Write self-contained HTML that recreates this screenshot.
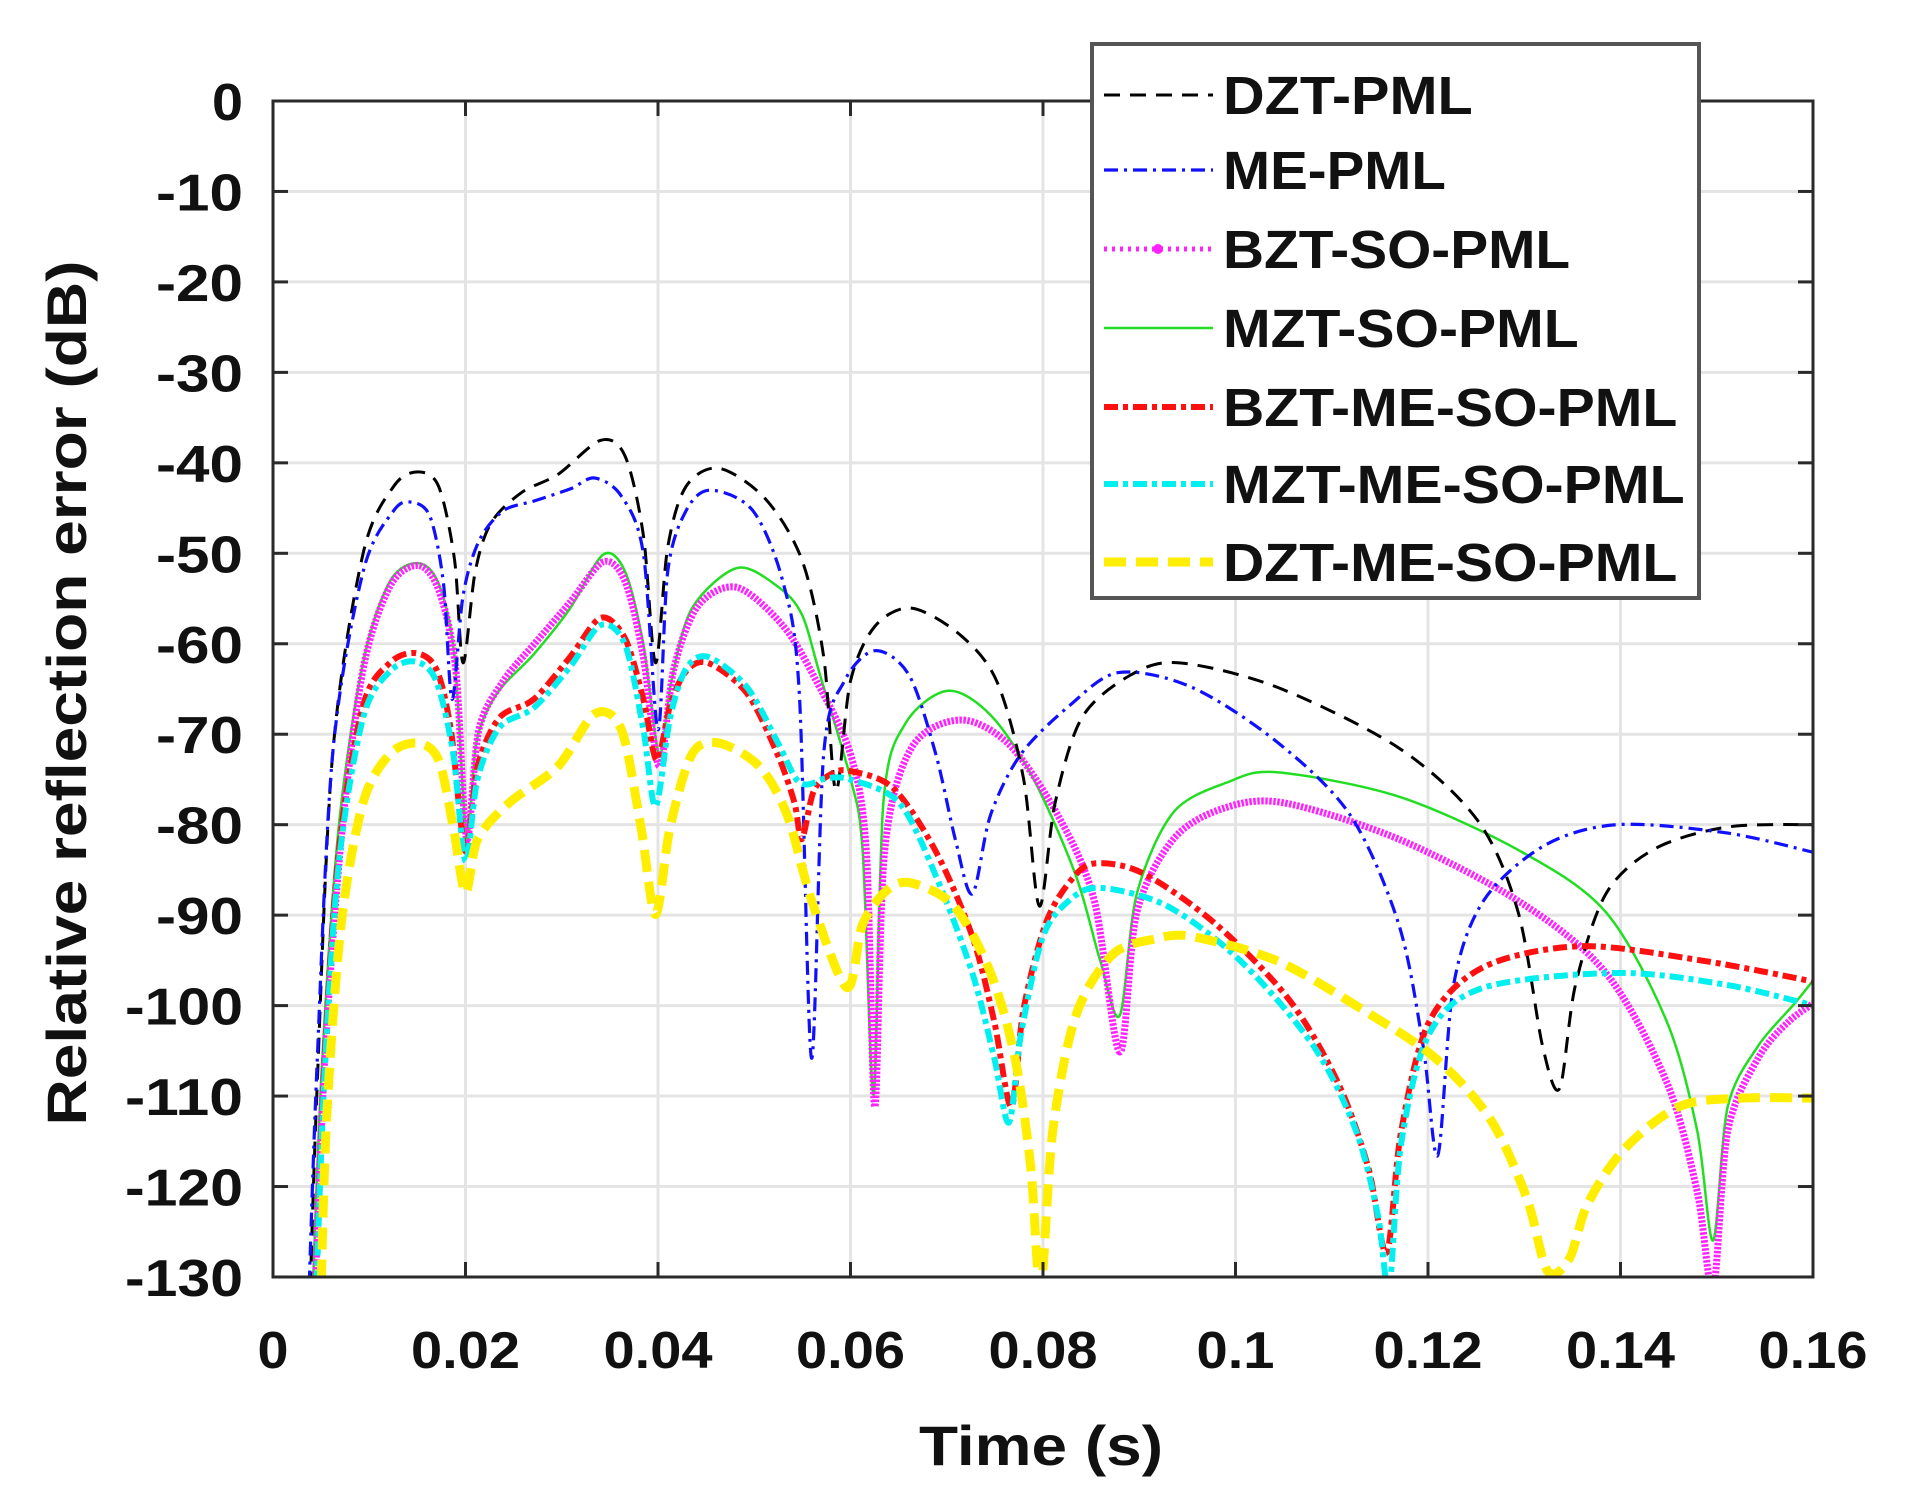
<!DOCTYPE html>
<html><head><meta charset="utf-8"><style>
html,body{margin:0;padding:0;background:#fff;}
svg{display:block;}
text{font-family:"Liberation Sans",Arial,sans-serif;font-weight:bold;fill:#111;}
</style></head><body>
<svg id="s" width="1905" height="1505" viewBox="0 0 1905 1505" xmlns="http://www.w3.org/2000/svg">
<defs><clipPath id="cp"><rect x="273" y="101" width="1540" height="1176"/></clipPath></defs>
<g id="grid" stroke="#e4e4e4" stroke-width="3"></g>
<g id="curves" clip-path="url(#cp)"></g>
<rect x="273" y="101" width="1540" height="1176" fill="none" stroke="#2a2a2a" stroke-width="3"/>
<g id="ticks" stroke="#2a2a2a" stroke-width="3"></g>
<g id="labels"></g>
<text x="1041" y="1465" font-size="56" text-anchor="middle" textLength="244" lengthAdjust="spacingAndGlyphs">Time (s)</text>
<text transform="translate(86,693) rotate(-90)" font-size="56" text-anchor="middle" textLength="865" lengthAdjust="spacingAndGlyphs">Relative reflection error (dB)</text>
<g id="legend">
<rect x="1092" y="44" width="607" height="554" fill="#fff" stroke="#555" stroke-width="4"/>
</g>
</svg>
<script>
const NS="http://www.w3.org/2000/svg";
function el(p,tag,a,txt){const e=document.createElementNS(NS,tag);for(const k in a)e.setAttribute(k,a[k]);if(txt)e.textContent=txt;document.getElementById(p).appendChild(e);return e;}
const X=t=>273+9625*t, Y=d=>101-d*9.046;
for(let i=1;i<8;i++){const x=X(i*0.02);el('grid','line',{x1:x,y1:101,x2:x,y2:1277});}
for(let i=1;i<13;i++){const y=Y(-i*10);el('grid','line',{x1:273,y1:y,x2:1813,y2:y});}
const xl=['0','0.02','0.04','0.06','0.08','0.1','0.12','0.14','0.16'];
xl.forEach((s,i)=>{const x=X(i*0.02);el('ticks','line',{x1:x,y1:1277,x2:x,y2:1262});el('ticks','line',{x1:x,y1:101,x2:x,y2:116});
 el('labels','text',{x:x,y:1368,'font-size':52,'text-anchor':'middle',textLength:s.length*31+(s.includes('.')?-15:0),lengthAdjust:'spacingAndGlyphs'},s);});
for(let i=0;i<=13;i++){const y=Y(-i*10);el('ticks','line',{x1:273,y1:y,x2:288,y2:y});el('ticks','line',{x1:1813,y1:y,x2:1798,y2:y});
 const s=i?('-'+i*10):'0';el('labels','text',{x:243,y:y+19,'font-size':52,'text-anchor':'end',textLength:s.length*31-(i?6:0),lengthAdjust:'spacingAndGlyphs'},s);}
const P=(x,y)=>[1.2184*x-2.4,1.2161*y+0.06];
function path(pts){pts=pts.map(p=>P(p[0],p[1]));let d='M'+pts[0][0]+','+pts[0][1];
 for(let i=0;i<pts.length-1;i++){const p0=pts[i-1]||pts[i],p1=pts[i],p2=pts[i+1],p3=pts[i+2]||p2;const k=1/6*0.9;
 d+=` C${p1[0]+(p2[0]-p0[0])*k},${p1[1]+(p2[1]-p0[1])*k} ${p2[0]-(p3[0]-p1[0])*k},${p2[1]-(p3[1]-p1[1])*k} ${p2[0]},${p2[1]}`;}return d;}
const S={
black:[[256,1080],[262,900],[275,620],[300,455],[325,400],[345,388],[362,400],[375,460],[382,545],[392,470],[405,430],[430,405],[460,390],[495,362],[515,375],[530,440],[540,545],[550,450],[565,400],[592,385],[630,410],[660,460],[678,540],[688,650],[700,560],[720,515],[750,500],[790,522],[820,560],[842,640],[855,745],[868,660],[890,590],[930,555],[970,545],[1050,565],[1150,615],[1215,675],[1248,750],[1268,860],[1282,895],[1295,810],[1320,735],[1360,698],[1420,680],[1495,678]],
blue:[[255,1080],[262,880],[275,620],[300,470],[325,420],[340,413],[355,425],[366,480],[373,575],[382,490],[395,445],[415,420],[440,412],[470,402],[490,393],[512,408],[530,455],[542,600],[550,470],[565,420],[585,403],[620,420],[645,480],[658,570],[668,870],[678,620],[695,560],[720,535],[748,555],[770,620],[786,690],[800,735],[815,670],[840,620],[880,580],[920,553],[980,565],[1050,610],[1110,670],[1150,760],[1170,860],[1182,950],[1195,810],[1220,740],[1270,695],[1330,678],[1420,685],[1495,702]],
green:[[258,1080],[266,880],[280,680],[300,545],[322,478],[345,463],[362,480],[375,540],[385,690],[393,610],[410,570],[440,538],[470,500],[497,456],[515,470],[530,530],[543,620],[553,560],[570,500],[607,467],[640,482],[660,505],[675,555],[700,640],[710,700],[719,900],[727,660],[745,595],[780,568],[815,588],[850,640],[885,720],[905,790],[921,835],[935,735],[965,668],[1010,643],[1050,635],[1150,655],[1250,700],[1320,750],[1370,840],[1395,930],[1408,1020],[1420,910],[1445,860],[1475,825],[1495,800]],
magenta:[[260,1080],[268,880],[282,690],[300,550],[322,482],[345,465],[362,485],[376,550],[385,690],[395,600],[415,560],[440,530],[470,495],[497,462],[515,478],[530,540],[543,630],[555,550],[575,498],[607,483],[645,515],[672,560],[700,620],[713,700],[720,910],[728,700],[750,615],[790,592],[830,612],[870,670],[900,740],[921,865],[935,750],[965,690],[1005,665],[1055,660],[1150,690],[1250,742],[1320,800],[1370,890],[1395,980],[1408,1060],[1420,930],[1445,870],[1470,840],[1495,822]],
red:[[261,1080],[268,880],[280,700],[300,580],[322,545],[343,537],[360,550],[372,600],[384,700],[394,630],[412,590],[440,575],[470,540],[495,508],[515,525],[530,575],[541,625],[552,580],[565,552],[583,545],[615,570],[640,620],[654,660],[660,690],[670,650],[685,636],[700,634],[735,648],[770,700],[800,770],[818,840],[832,910],[842,830],[860,760],[880,725],[900,710],[940,718],[1000,760],[1060,822],[1100,890],[1125,960],[1140,1030],[1152,930],[1175,840],[1220,795],[1300,778],[1400,790],[1495,808]],
cyan:[[261,1080],[268,890],[280,710],[300,590],[322,552],[343,544],[360,560],[374,620],[384,708],[394,640],[412,598],[440,582],[470,548],[495,514],[515,530],[530,600],[540,663],[552,590],[565,550],[583,540],[615,565],[640,610],[655,640],[665,645],[680,640],[700,641],[740,660],[770,720],[800,800],[818,870],[830,923],[840,850],[858,770],[880,740],[905,730],[960,745],[1020,790],[1080,860],[1115,930],[1133,1000],[1142,1060],[1152,940],[1175,850],[1220,812],[1330,800],[1420,810],[1495,828]],
yellow:[[265,1080],[270,920],[282,760],[300,660],[322,620],[345,611],[362,625],[374,680],[384,734],[394,690],[420,660],[460,630],[490,587],[512,600],[528,680],[540,752],[552,680],[570,620],[592,611],[625,630],[648,670],[668,740],[697,812],[710,760],[730,732],[750,726],[785,745],[815,800],[835,870],[848,960],[856,1060],[866,930],[885,835],[915,785],[950,772],[980,770],[1050,790],[1120,830],[1180,870],[1225,920],[1255,985],[1272,1045],[1290,1035],[1305,990],[1335,945],[1380,910],[1430,903],[1495,903]]
};
const st={
black:{stroke:'#000','stroke-width':3,'stroke-dasharray':'16 10'},
blue:{stroke:'#1010ff','stroke-width':3.2,'stroke-dasharray':'14 6 3 6'},
green:{stroke:'#22dd22','stroke-width':2.5},
magenta:{stroke:'#ff22ff','stroke-width':7,'stroke-dasharray':'2.5 1.5'},
red:{stroke:'#ff1010','stroke-width':6,'stroke-dasharray':'14 5 5 5'},
cyan:{stroke:'#00f0f0','stroke-width':6,'stroke-dasharray':'14 5 5 5'},
yellow:{stroke:'#ffee00','stroke-width':9,'stroke-dasharray':'22 10'}
};
['green','magenta','black','blue','red','cyan','yellow'].forEach(k=>{
 el('curves','path',Object.assign({d:path(S[k]),fill:'none','stroke-linejoin':'round'},st[k]));});
const L=[['DZT-PML','black',205],['ME-PML','blue',183],['BZT-SO-PML','magenta',285],['MZT-SO-PML','green',292],['BZT-ME-SO-PML','red',373],['MZT-ME-SO-PML','cyan',379],['DZT-ME-SO-PML','yellow',373]];
const ly=[95,170,249,328,407,484,562];
L.forEach((l,i)=>{const y=ly[i];const a=Object.assign({x1:1104,y1:y,x2:1213,y2:y},st[l[1]]);
 if(l[1]=='magenta'){a['stroke-width']=5;a['stroke-dasharray']='3 5';}
 el('legend','line',a);
 if(l[1]=='magenta')el('legend','circle',{cx:1158,cy:y,r:5,fill:'#ff22ff'});
 el('legend','text',{x:1223,y:y+19,'font-size':54,textLength:l[2]*1.218,lengthAdjust:'spacingAndGlyphs'},l[0]);});
</script>
</body></html>
